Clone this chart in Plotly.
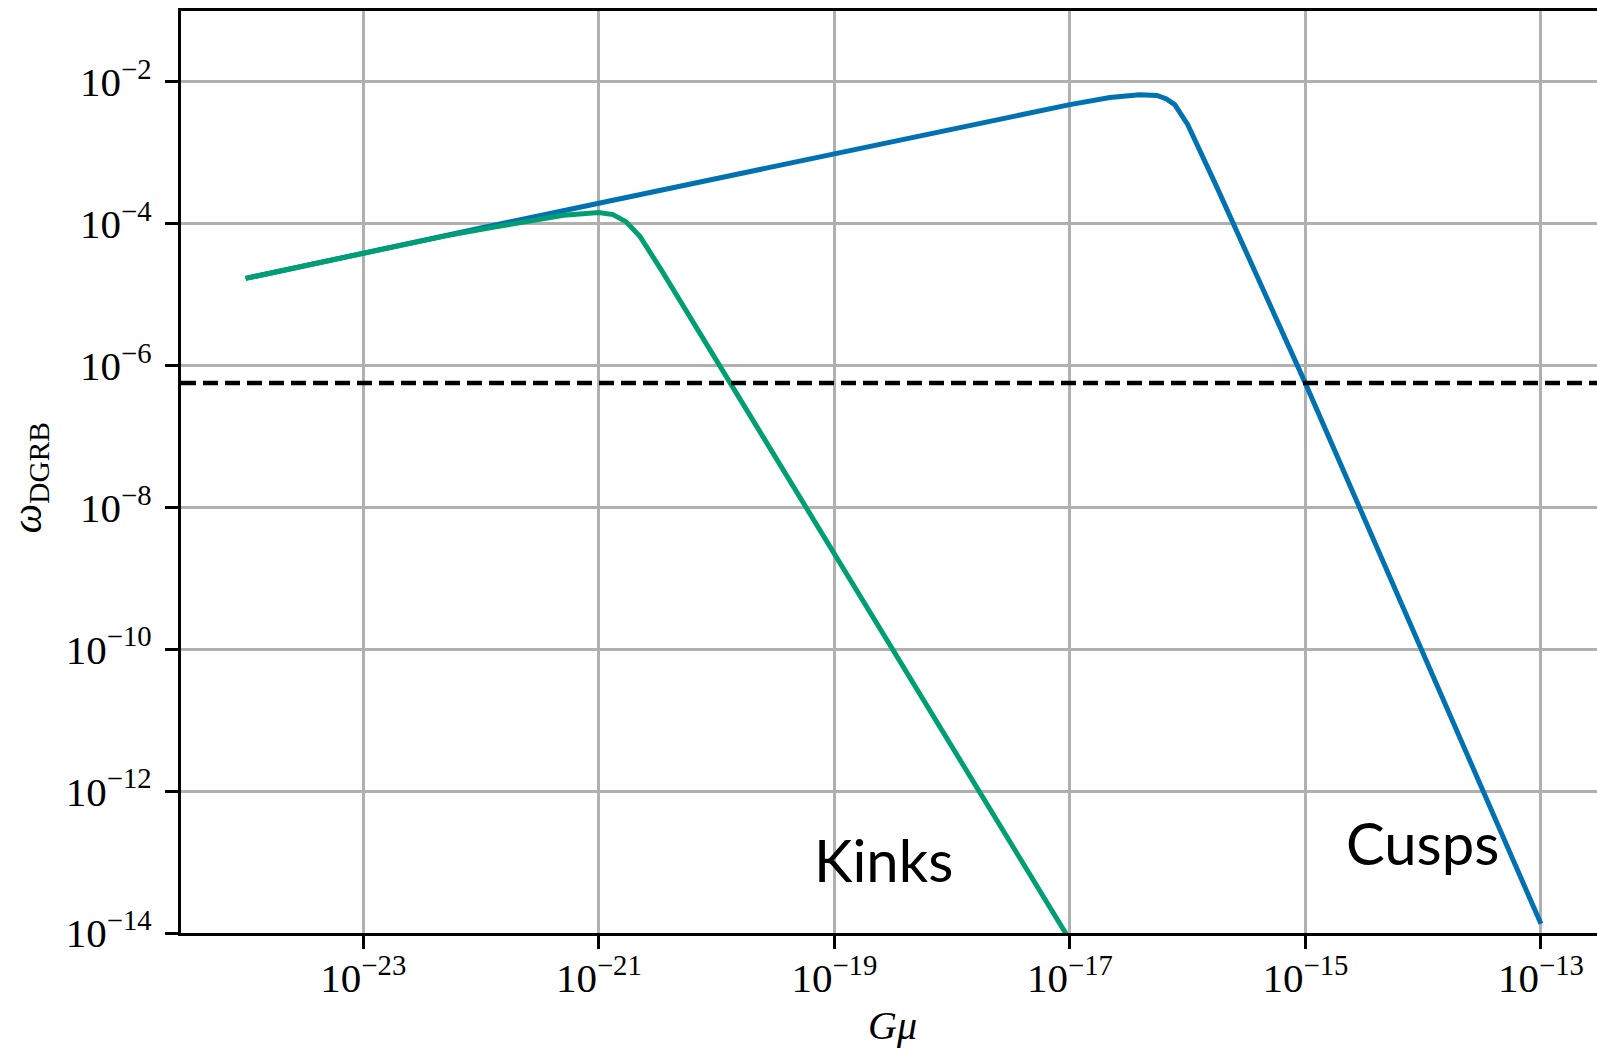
import numpy as np
import plotly.graph_objects as go

# ---- data (log10 values) ----
log_gmu_cusps = [-24.0, -23.0, -22.0, -21.0, -20.0, -19.0, -18.0, -17.0,
                 -16.66, -16.41, -16.26, -16.18, -16.11, -16.0, -15.75, -15.0, -13.0]
log_omega_cusps = [-4.77, -4.41, -4.06, -3.71, -3.36, -3.01, -2.66, -2.32,
                   -2.22, -2.18, -2.19, -2.24, -2.32, -2.60, -3.49, -6.25, -13.87]

log_gmu_kinks = [-24.0, -23.0, -22.3, -21.9, -21.6, -21.3, -21.0, -20.88, -20.77,
                 -20.65, -20.47, -19.89, -19.0, -17.0]
log_omega_kinks = [-4.77, -4.41, -4.17, -4.05, -3.96, -3.88, -3.84, -3.87, -3.97,
                   -4.18, -4.65, -6.23, -8.64, -14.10]

dgrb_bound = 5.7e-7

x_tick_exps = [-23, -21, -19, -17, -15, -13]
y_tick_exps = [-14, -12, -10, -8, -6, -4, -2]

series_labels = ["Cusps", "Kinks"]
label_pos_log_x = [-14.01, -18.58]
label_pos_log_y = [-12.72, -12.97]

blue = "#0072B2"
green = "#009E73"

gmu_c = np.power(10.0, log_gmu_cusps)
om_c = np.power(10.0, log_omega_cusps)
gmu_k = np.power(10.0, log_gmu_kinks)
om_k = np.power(10.0, log_omega_kinks)

fig = go.Figure()
fig.add_trace(go.Scatter(x=gmu_c, y=om_c, mode="lines",
                         line=dict(color=blue, width=5), name="Cusps"))
fig.add_trace(go.Scatter(x=gmu_k, y=om_k, mode="lines",
                         line=dict(color=green, width=5), name="Kinks"))
fig.add_hline(y=dgrb_bound, line=dict(color="black", width=4.5, dash="15px,7px"))

tick_font = dict(family="Liberation Serif, DejaVu Serif, serif", size=41, color="black")

fig.update_xaxes(
    type="log", range=[-24.548, -12.524],
    tickvals=[10.0 ** e for e in x_tick_exps],
    ticktext=["10<sup>\u2212%d</sup>" % (-e) for e in x_tick_exps],
    tickfont=tick_font, ticks="outside", ticklen=13, tickwidth=2.7, tickcolor="black",
    showline=True, linecolor="black", linewidth=3.3, mirror=True,
    showgrid=True, gridcolor="#b0b0b0", gridwidth=2.5, zeroline=False,
    ticklabelstandoff=-6,
)
fig.update_yaxes(
    type="log", range=[-14, -1],
    tickvals=[10.0 ** e for e in y_tick_exps],
    ticktext=["10<sup>\u2212%d</sup>" % (-e) for e in y_tick_exps],
    tickfont=tick_font, ticks="outside", ticklen=13, tickwidth=2.7, tickcolor="black",
    showline=True, linecolor="black", linewidth=3.3, mirror=False,
    showgrid=True, gridcolor="#b0b0b0", gridwidth=2.5, zeroline=False,
    ticklabelstandoff=5,
)

annotations = []
for lab, lx, ly in zip(series_labels, label_pos_log_x, label_pos_log_y):
    annotations.append(dict(x=lx, y=ly, xref="x", yref="y", text=lab, showarrow=False,
                            font=dict(family="Lato, sans-serif", size=58, color="black"),
                            xanchor="center", yanchor="middle"))
annotations.append(dict(x=0.5025, y=-0.1, xref="paper", yref="paper",
                        text="<i>G\u03bc</i>", showarrow=False,
                        font=dict(family="Liberation Serif, DejaVu Serif, serif", size=40, color="black"),
                        xanchor="center", yanchor="middle"))
annotations.append(dict(x=-0.107, y=0.4936, xref="paper", yref="paper",
                        text="<i>\u03c9</i><sub>DGRB</sub>", showarrow=False, textangle=-90,
                        font=dict(family="Liberation Serif, DejaVu Serif, serif", size=42, color="black"),
                        xanchor="center", yanchor="middle"))

fig.update_layout(
    width=1597, height=1050, autosize=False,
    margin=dict(l=181, r=0, t=11, b=117, pad=0),
    plot_bgcolor="white", paper_bgcolor="white",
    showlegend=False, annotations=annotations,
)

fig.write_html("out.html", config={"displayModeBar": False})
